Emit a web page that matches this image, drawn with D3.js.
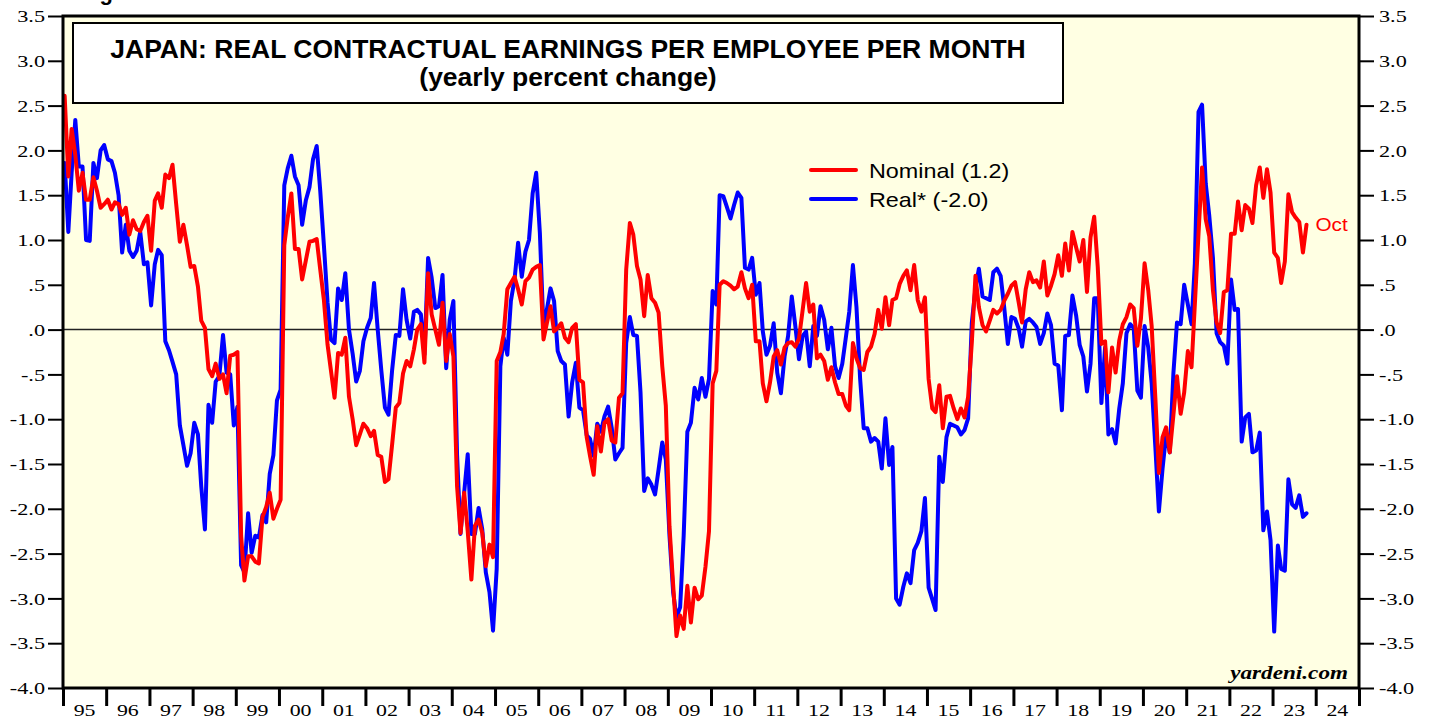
<!DOCTYPE html>
<html><head><meta charset="utf-8">
<script src="https://cdn.jsdelivr.net/npm/d3@7"></script>
<style>body{margin:0;background:#fff}svg{display:block}</style>
</head><body>
<svg id="chart" width="1429" height="719"></svg>
<script>
// ---------------- DATA ----------------
const startYear = 1995, startMonth = 0; // Jan 1995, monthly, last = Oct 2023
const nominal = [
 2.61,1.71,2.24,1.95,1.55,1.75,1.45,1.45,1.70,1.55,1.36,1.40,
 1.45,1.34,1.42,1.40,1.28,1.36,1.06,1.22,1.12,1.10,1.20,1.27,
 0.88,1.44,1.52,1.36,1.73,1.69,1.84,1.40,0.98,1.17,0.94,0.70,
 0.71,0.48,0.10,0.02,-0.44,-0.52,-0.38,-0.55,-0.50,-0.71,-0.29,-0.28,
 -0.25,-2.30,-2.80,-2.53,-2.53,-2.59,-2.61,-2.09,-1.98,-1.82,-2.11,-2.00,
 -1.90,0.94,1.25,1.52,0.90,0.90,0.56,0.77,0.98,0.99,1.01,0.67,
 0.33,-0.17,-0.45,-0.76,-0.26,-0.28,-0.09,-0.75,-1.00,-1.29,-1.17,-1.05,
 -1.10,-1.19,-1.13,-1.40,-1.42,-1.70,-1.67,-1.28,-0.87,-0.82,-0.49,-0.35,
 -0.41,-0.22,0.00,0.06,-0.37,0.63,0.17,0.00,-0.17,0.30,-0.35,-0.05,
 -0.30,-1.75,-2.27,-1.82,-2.25,-2.79,-2.19,-2.12,-2.27,-2.64,-2.40,-2.54,
 -0.35,-0.25,-0.05,0.45,0.52,0.59,0.45,0.28,0.54,0.58,0.67,0.70,
 0.72,-0.11,0.07,0.26,-0.02,0.02,0.07,-0.09,-0.14,0.02,0.06,-0.56,
 -0.59,-1.20,-1.41,-1.62,-1.08,-1.36,-1.04,-1.00,-1.24,-1.26,-0.76,-0.71,
 0.67,1.19,1.06,0.71,0.56,0.15,0.61,0.35,0.30,0.19,-0.41,-0.85,
 -2.20,-2.85,-3.42,-3.19,-3.34,-2.86,-3.27,-2.88,-3.01,-2.97,-2.65,-2.25,
 -0.60,-0.46,0.50,0.54,0.52,0.49,0.45,0.48,0.64,0.46,0.35,0.50,
 -0.13,-0.13,-0.60,-0.80,-0.59,-0.30,-0.23,-0.39,-0.20,-0.15,-0.14,-0.19,
 -0.10,0.22,0.52,0.20,0.28,-0.32,-0.28,-0.35,-0.56,-0.42,-0.59,-0.72,
 -0.72,-0.85,-0.90,-0.15,-0.32,-0.43,-0.45,-0.25,-0.19,-0.05,0.22,0.01,
 0.36,0.05,0.33,0.35,0.51,0.60,0.66,0.44,0.72,0.33,0.20,0.36,
 -0.55,-0.88,-0.92,-0.62,-1.10,-0.75,-0.74,-0.88,-1.00,-0.88,-0.98,-0.75,
 -0.15,0.60,0.25,0.05,-0.02,0.10,0.22,0.18,0.22,0.32,0.40,0.49,
 0.53,0.30,0.08,0.45,0.64,0.53,0.55,0.47,0.76,0.38,0.49,0.62,
 0.83,0.60,0.96,0.66,1.09,0.92,0.76,1.00,0.42,1.03,1.26,0.70,
 -0.16,-0.13,-0.70,-0.20,-0.48,-0.12,0.06,0.14,0.28,0.24,-0.18,0.12,
 0.74,0.44,0.04,-0.76,-1.60,-1.20,-1.09,-1.37,-0.95,-0.52,-0.94,-0.70,
 -0.24,-0.42,0.28,1.07,1.81,1.23,1.04,0.44,0.08,-0.04,0.42,0.44,
 1.07,1.07,1.43,1.11,1.39,1.35,1.19,1.61,1.81,1.47,1.79,1.53,
 0.86,0.80,0.52,0.76,1.51,1.31,1.25,1.20,0.86,1.17
];
const real = [
 1.86,1.09,1.75,2.34,1.82,1.82,1.00,0.99,1.86,1.69,2.00,2.06,
 1.90,1.88,1.75,1.50,0.86,1.17,0.88,0.81,0.88,1.09,0.73,0.75,
 0.27,0.73,0.89,0.83,-0.13,-0.23,-0.36,-0.50,-1.07,-1.29,-1.52,-1.38,
 -1.04,-1.17,-1.75,-2.23,-0.84,-1.04,-0.58,-0.52,-0.06,-0.48,-0.50,-1.07,
 -0.86,-2.63,-2.71,-2.05,-2.49,-2.30,-2.32,-2.07,-2.15,-1.61,-1.40,-0.79,
 -0.67,1.61,1.80,1.94,1.71,1.61,1.17,1.44,1.59,1.90,2.05,1.55,
 0.94,0.30,-0.11,-0.15,0.46,0.33,0.63,0.00,-0.27,-0.58,-0.46,-0.13,
 0.02,0.13,0.52,0.00,-0.45,-0.87,-0.95,-0.45,-0.06,-0.07,0.45,0.11,
 -0.10,0.20,0.22,0.17,-0.28,0.80,0.58,0.24,0.26,0.61,-0.43,0.11,
 0.32,-1.40,-2.28,-1.82,-1.39,-2.28,-2.28,-1.99,-2.23,-2.71,-2.93,-3.36,
 -2.67,-0.41,-0.09,-0.28,0.32,0.56,0.97,0.59,0.87,1.00,1.52,1.75,
 1.08,0.00,0.22,0.46,0.32,-0.24,-0.35,-0.39,-0.97,-0.59,-0.37,-0.87,
 -0.90,-1.18,-1.22,-1.41,-1.05,-1.14,-0.97,-0.86,-1.10,-1.45,-1.38,-1.32,
 -0.15,0.14,-0.06,-0.07,-0.70,-1.80,-1.66,-1.73,-1.84,-1.56,-1.26,-1.45,
 -2.30,-2.93,-3.21,-3.10,-2.30,-1.14,-1.04,-0.65,-0.78,-0.54,-0.75,-0.55,
 0.43,0.28,1.50,1.49,1.37,1.24,1.39,1.53,1.47,0.69,0.67,0.80,
 0.39,0.52,-0.02,-0.28,-0.18,0.07,-0.48,-0.71,-0.30,-0.07,0.37,0.04,
 -0.33,-0.07,-0.02,-0.41,0.04,-0.07,0.26,0.11,-0.22,0.02,-0.41,-0.54,
 -0.38,-0.08,0.20,0.72,0.25,-0.55,-1.10,-1.10,-1.25,-1.21,-1.25,-1.55,
 -0.99,-1.51,-1.31,-3.00,-3.07,-2.87,-2.72,-2.83,-2.46,-2.38,-2.25,-1.88,
 -2.88,-3.01,-3.13,-1.42,-1.70,-1.20,-1.05,-1.07,-1.09,-1.17,-1.12,-0.99,
 0.07,0.46,0.68,0.37,0.35,0.33,0.64,0.68,0.60,0.25,-0.16,0.14,
 0.12,0.01,-0.19,0.09,0.12,0.08,0.03,-0.16,-0.04,0.18,0.05,-0.38,
 -0.40,-0.90,-0.07,-0.06,0.38,0.16,-0.17,-0.30,-0.69,-0.38,0.35,0.35,
 -0.82,-0.20,-1.17,-1.11,-1.27,-0.88,-0.60,-0.04,0.06,0.02,-0.68,-0.76,
 0.04,-0.20,-0.60,-1.31,-2.03,-1.55,-1.17,-1.37,-0.48,0.08,0.06,0.50,
 0.28,0.06,0.74,2.43,2.51,1.63,1.27,0.80,-0.04,-0.14,-0.18,-0.38,
 0.56,0.22,0.23,-1.25,-0.98,-0.94,-1.37,-1.35,-1.15,-2.24,-2.03,-2.35,
 -3.37,-2.41,-2.67,-2.69,-1.67,-1.95,-1.99,-1.85,-2.09,-2.05
];
const yTickValues = [3.5,3.0,2.5,2.0,1.5,1.0,0.5,0.0,-0.5,-1.0,-1.5,-2.0,-2.5,-3.0,-3.5,-4.0];
const yTickLabels = ["3.5","3.0","2.5","2.0","1.5","1.0",".5",".0","-.5","-1.0","-1.5","-2.0","-2.5","-3.0","-3.5","-4.0"];
const yearLabels = ["95","96","97","98","99","00","01","02","03","04","05","06","07","08","09","10","11","12","13","14","15","16","17","18","19","20","21","22","23","24"];
const titleLines = ["JAPAN: REAL CONTRACTUAL EARNINGS PER EMPLOYEE PER MONTH","(yearly percent change)"];
const seriesNames = ["Nominal (1.2)","Real* (-2.0)"];
const seriesColors = ["#ff0000","#0000ff"];
const lastLabel = "Oct";
const credit = "yardeni.com";
const figLabel = "Figure 5.";

// ---------------- LAYOUT ----------------
const L = 63, R = 1359, T = 16, B = 688;
const svg = d3.select("#chart");
const x = d3.scaleTime().domain([new Date(1995,0,1), new Date(2025,0,1)]).range([L, R]);
const y = d3.scaleLinear().domain([-4, 3.5]).range([B, T]);
const dates = nominal.map((_, i) => new Date(startYear, startMonth + i, 15));
const serif = "'Liberation Serif','Times New Roman',serif";
const sans = "'Liberation Sans',Arial,Helvetica,sans-serif";

function stxt(parent, px, py, str, o) {
  const g = parent.append("g").attr("transform", `translate(${px},${py}) scale(${o.sx||1},1)`);
  return g.append("text").text(str)
    .attr("font-family", o.family).attr("font-size", o.size)
    .attr("font-weight", o.weight||"normal").attr("font-style", o.style||"normal")
    .attr("text-anchor", o.anchor||"start").attr("fill", o.fill||"#000")
    .attr("dy", o.dy||0);
}

// figure label (clipped at the top, as in the source)
stxt(svg, 80, 0, figLabel, {family: sans, size: 22, weight: "bold"});

// plot background
svg.append("rect").attr("x", L).attr("y", T).attr("width", R-L).attr("height", B-T).attr("fill", "#ffffe3");

// zero line
svg.append("line").attr("x1", L).attr("x2", R).attr("y1", y(0)).attr("y2", y(0))
  .attr("stroke", "#222").attr("stroke-width", 1.5);

// clip
svg.append("clipPath").attr("id", "clip").append("rect")
  .attr("x", L).attr("y", T).attr("width", R-L).attr("height", B-T);

const line = d3.line().x((d, i) => x(dates[i])).y(d => y(d));
const plotG = svg.append("g").attr("clip-path", "url(#clip)");
plotG.append("path").datum(real).attr("d", line).attr("fill", "none")
  .attr("stroke", seriesColors[1]).attr("stroke-width", 4).attr("stroke-linejoin", "round").attr("stroke-linecap", "round");
plotG.append("path").datum(nominal).attr("d", line).attr("fill", "none")
  .attr("stroke", seriesColors[0]).attr("stroke-width", 4).attr("stroke-linejoin", "round").attr("stroke-linecap", "round");

// title box
svg.append("rect").attr("x", 73).attr("y", 23).attr("width", 990).attr("height", 80)
  .attr("fill", "#fff").attr("stroke", "#000").attr("stroke-width", 2);
stxt(svg, 568, 57.5, titleLines[0], {family: sans, size: 25, weight: "bold", anchor: "middle", sx: 1.06});
stxt(svg, 568, 86, titleLines[1], {family: sans, size: 25, weight: "bold", anchor: "middle", sx: 1.06});

// legend
[0, 1].forEach(k => {
  const ly = 170 + k * 29;
  svg.append("line").attr("x1", 811).attr("x2", 856).attr("y1", ly).attr("y2", ly)
    .attr("stroke", seriesColors[k]).attr("stroke-width", 4).attr("stroke-linecap", "round");
  stxt(svg, 869, ly + 7.5, seriesNames[k], {family: sans, size: 20.5, sx: 1.14});
});

// last label
stxt(svg, x(dates[dates.length-1]) + 9, y(nominal[nominal.length-1]), lastLabel,
  {family: sans, size: 18.5, sx: 1.12, fill: seriesColors[0], dy: "0.36em"});

// credit
stxt(svg, 1348, 679, credit, {family: serif, size: 19, weight: "bold", style: "italic", anchor: "end", sx: 1.22});

// axes ticks
const yl = svg.append("g").attr("transform", `translate(${L},0)`)
  .call(d3.axisLeft(y).tickValues(yTickValues).tickSize(15).tickFormat(""));
const yr = svg.append("g").attr("transform", `translate(${R},0)`)
  .call(d3.axisRight(y).tickValues(yTickValues).tickSize(15).tickFormat(""));
[yl, yr].forEach(g => { g.select(".domain").remove(); g.selectAll(".tick line").attr("stroke", "#000").attr("stroke-width", 2); });

const yearStarts = yearLabels.map((_, i) => new Date(1995 + i, 0, 1)).concat([new Date(2025,0,1)]);
const xa = svg.append("g").attr("transform", `translate(0,${B})`)
  .call(d3.axisBottom(x).tickValues(yearStarts).tickSize(18).tickFormat(""));
xa.select(".domain").remove();
xa.selectAll(".tick line").attr("stroke", "#000").attr("stroke-width", 3);

// frame
svg.append("rect").attr("x", L).attr("y", T).attr("width", R-L).attr("height", B-T)
  .attr("fill", "none").attr("stroke", "#000").attr("stroke-width", 3);

// tick labels
yTickValues.forEach((v, i) => {
  stxt(svg, L - 18, y(v), yTickLabels[i], {family: serif, size: 17.5, anchor: "end", sx: 1.27, dy: "0.35em"});
  stxt(svg, R + 20, y(v), yTickLabels[i], {family: serif, size: 17.5, anchor: "start", sx: 1.27, dy: "0.35em"});
});
yearLabels.forEach((lab, i) => {
  const mid = new Date((yearStarts[i].getTime() + yearStarts[i+1].getTime()) / 2);
  stxt(svg, x(mid), 716, lab, {family: serif, size: 17.5, anchor: "middle", sx: 1.25});
});
</script>
</body></html>
